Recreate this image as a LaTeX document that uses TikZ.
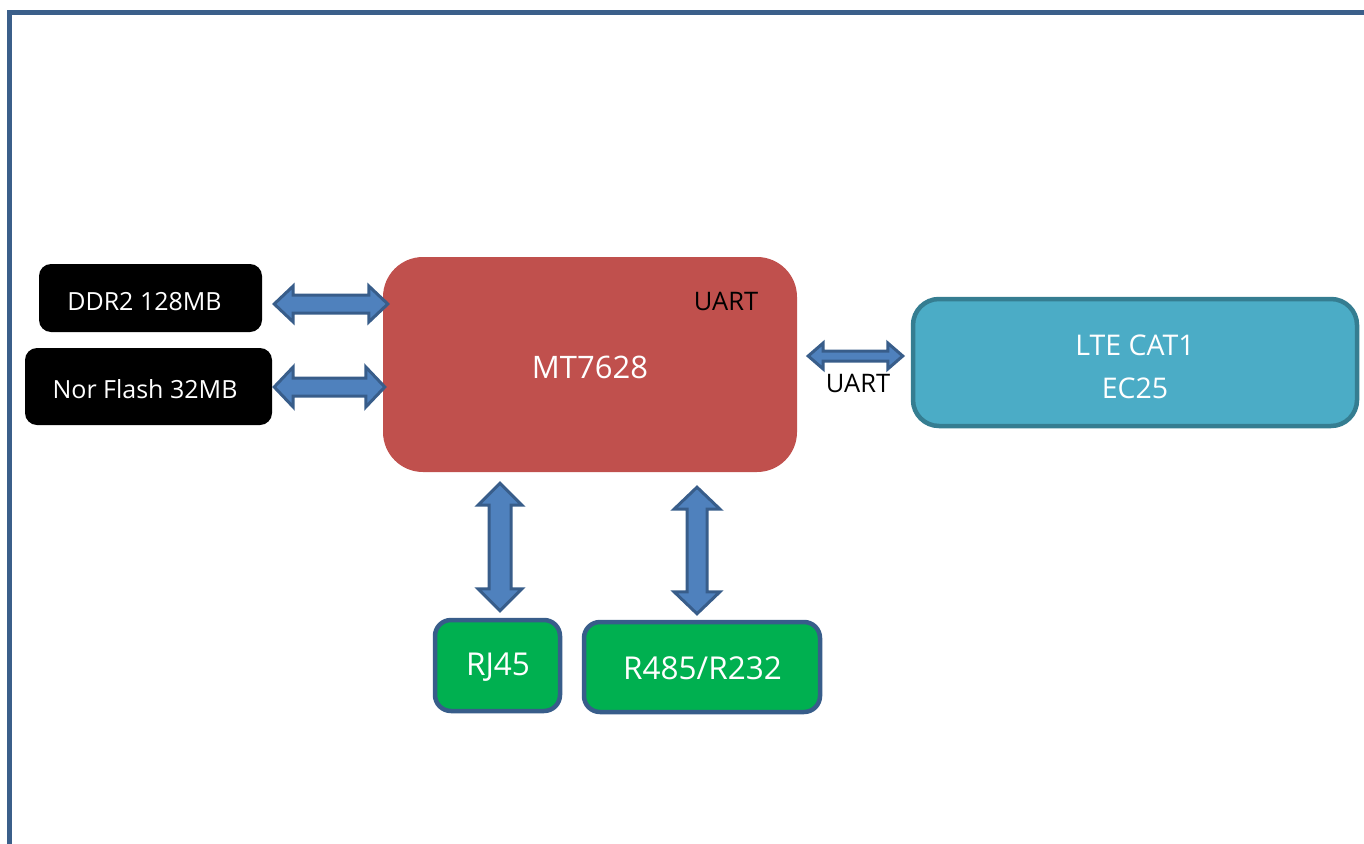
\documentclass[tikz,border=0pt]{standalone}
\usepackage{fontspec}
\setmainfont{Open Sans}
\usetikzlibrary{calc}
\definecolor{frameblue}{HTML}{3B5F8A}
\definecolor{arrfill}{HTML}{4F81BD}
\definecolor{arrline}{HTML}{385D8A}
\definecolor{chipred}{HTML}{C0504D}
\definecolor{ltefill}{HTML}{4BACC6}
\definecolor{lteline}{HTML}{357D91}
\definecolor{portgreen}{HTML}{00B050}
\tikzset{
  memblock/.style={fill=black, rounded corners=12pt, inner sep=0pt},
  memtext/.style={text=white, font=\fontsize{25}{29}\selectfont, inner sep=0pt},
  chipblock/.style={fill=chipred, rounded corners=40pt, inner sep=0pt},
  lteblock/.style={fill=ltefill, draw=lteline, line width=4.5pt, rounded corners=26pt, inner sep=0pt},
  ltetext/.style={text=white, font=\fontsize{28.5}{43}\selectfont, align=center, inner sep=0pt},
  portblock/.style={fill=portgreen, draw=arrline, line width=4.5pt, rounded corners=16pt, inner sep=0pt},
  porttext/.style={text=white, font=\fontsize{31.5}{34}\selectfont, inner sep=0pt},
  fatarrow/.style={fill=arrfill, draw=arrline, line width=3pt, line join=miter},
  lbl/.style={text=black, font=\fontsize{25.5}{29}\selectfont, inner sep=0pt},
}
% horizontal double arrow: #1 left tip, #2 right tip, #3 head half height, #4 shaft half, #5 head length
\newcommand\hfatarrow[5]{%
  \draw[fatarrow] let \p1=(#1), \p2=(#2) in
    (\p1) -- (\x1+#5,\y1+#3) -- (\x1+#5,\y1+#4) -- (\x2-#5,\y1+#4) -- (\x2-#5,\y1+#3) -- (\x2,\y1)
    -- (\x2-#5,\y1-#3) -- (\x2-#5,\y1-#4) -- (\x1+#5,\y1-#4) -- (\x1+#5,\y1-#3) -- cycle;}
% vertical double arrow: #1 top tip, #2 bottom tip
\newcommand\vfatarrow[5]{%
  \draw[fatarrow] let \p1=(#1), \p2=(#2) in
    (\p1) -- (\x1+#3,\y1-#5) -- (\x1+#4,\y1-#5) -- (\x1+#4,\y2+#5) -- (\x1+#3,\y2+#5) -- (\x1,\y2)
    -- (\x1-#3,\y2+#5) -- (\x1-#4,\y2+#5) -- (\x1-#4,\y1-#5) -- (\x1-#3,\y1-#5) -- cycle;}
\begin{document}
\begin{tikzpicture}[x=1pt,y=-1pt]
\useasboundingbox (0,0) rectangle (1364,843);
% frame
\draw[frameblue, line width=5pt] (9,845) -- (9,13) -- (1366,13);

% blocks
\node[memblock, minimum width=223pt, minimum height=68pt] (ddr) at (150.5,298) {};
\node[memtext] (ddrlbl) at (144.5,302) {DDR2 128MB};
\node[memblock, minimum width=247pt, minimum height=77pt] (nor) at (148.5,386.5) {};
\node[memtext] (norlbl) at (145,389) {Nor Flash 32MB};
\node[chipblock, minimum width=414pt, minimum height=215pt] (mt) at (590,364.5) {};
\node[text=white, font=\fontsize{31}{34}\selectfont, inner sep=0pt] (mtlbl) at (590,367) {MT7628};
\node[lbl] (uart1) at (726,301) {UART};
\node[lteblock, minimum width=444pt, minimum height=127pt] (lte) at (1135,362.5) {};
\node[ltetext] (ltelbl) at (1135,367) {LTE CAT1\\EC25};
\node[portblock, minimum width=125pt, minimum height=91pt] (rj) at (497.5,665.5) {};
\node[porttext] (rjlbl) at (498,667) {RJ45};
\node[portblock, minimum width=236pt, minimum height=90pt] (rs) at (702,667) {};
\node[porttext] (rslbl) at (702.5,668) {R485/R232};

% arrow tips
\coordinate (ddrA) at ($(ddr.east)+(12,6)$);
\coordinate (ddrB) at ($(mt.west|-ddrA)+(5,0)$);
\coordinate (norA) at ($(nor.east)+(2,0.5)$);
\coordinate (norB) at ($(mt.west|-norA)+(2,0)$);
\coordinate (lteA) at ($(mt.east)+(11,-8.5)$);
\coordinate (lteB) at ($(lte.west|-lteA)+(-8,0)$);
\coordinate (rjA) at ($(mt.south)+(-90,11)$);
\coordinate (rjB) at ($(rj.north)+(2.5,-7)$);
\coordinate (rsA) at ($(mt.south)+(107,15)$);
\coordinate (rsB) at ($(rs.north)+(-5,-6)$);

\hfatarrow{ddrA}{ddrB}{18pt}{9pt}{19pt}
\hfatarrow{norA}{norB}{20pt}{9pt}{19pt}
\hfatarrow{lteA}{lteB}{13pt}{5pt}{15pt}
\vfatarrow{rjA}{rjB}{22pt}{11pt}{22pt}
\vfatarrow{rsA}{rsB}{23pt}{10pt}{22pt}

\node[lbl] (uart2) at (858,383) {UART};
\end{tikzpicture}
\end{document}
